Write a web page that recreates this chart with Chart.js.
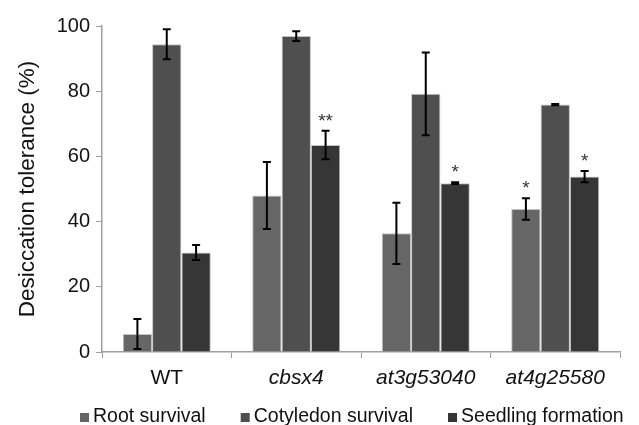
<!DOCTYPE html>
<html>
<head>
<meta charset="utf-8">
<script src="https://cdn.jsdelivr.net/npm/chart.js@4/dist/chart.umd.min.js"></script>
<style>
  html, body { margin: 0; padding: 0; background: #fff; }
  #wrap { width: 639px; height: 425px; }
</style>
</head>
<body>
<div id="wrap"><canvas id="chart"></canvas></div>
<script>
// Datos
const genotypes = ['WT', 'cbsx4', 'at3g53040', 'at4g25580'];
const seriesNames = ['Root survival', 'Cotyledon survival', 'Seedling formation'];

const rootSurvival = [5.5, 48, 36.4, 43.9];
const cotyledonSurvival = [94.4, 96.9, 79.2, 75.9];
const seedlingFormation = [30.5, 63.5, 51.8, 53.8];

const rootErr = [4.6, 10.3, 9.4, 3.3];
const cotyledonErr = [4.6, 1.5, 12.7, 0.2];
const seedlingErr = [2.3, 4.4, 0.3, 1.7];

const rootStars = ['', '', '', '*'];
const cotyledonStars = ['', '', '', ''];
const seedlingStars = ['', '**', '*', '*'];

const yTicks = [0, 20, 40, 60, 80, 100];

const errors = [rootErr, cotyledonErr, seedlingErr];
const stars = [rootStars, cotyledonStars, seedlingStars];
const colors = ['#666666', '#4f4f4f', '#363636'];
const FONT = '"Liberation Sans", Arial, sans-serif';

// Plugin para barras de error y asteriscos
const errorBarsPlugin = {
    id: 'errorBars',
    afterDatasetsDraw(chart) {
        const ctx = chart.ctx;
        const yScale = chart.scales.y;
        ctx.save();
        chart.data.datasets.forEach((ds, di) => {
            const meta = chart.getDatasetMeta(di);
            meta.data.forEach((bar, i) => {
                const v = ds.data[i];
                const e = errors[di][i];
                const x = bar.x;
                const yTop = yScale.getPixelForValue(v + e);
                const yBot = yScale.getPixelForValue(v - e);
                ctx.strokeStyle = '#000';
                ctx.lineWidth = 2;
                ctx.beginPath();
                ctx.moveTo(x, yTop); ctx.lineTo(x, yBot);
                ctx.moveTo(x - 4, yTop); ctx.lineTo(x + 4, yTop);
                ctx.moveTo(x - 4, yBot); ctx.lineTo(x + 4, yBot);
                ctx.stroke();
                const s = stars[di][i];
                if (s) {
                    ctx.fillStyle = '#333';
                    ctx.font = '19px ' + FONT;
                    ctx.textAlign = 'center';
                    ctx.textBaseline = 'alphabetic';
                    ctx.fillText(s, x, yTop - 4);
                }
            });
        });
        ctx.restore();
    }
};

// Leyenda dibujada a mano (cuadro pequeño + texto)
const legendPlugin = {
    id: 'customLegend',
    afterDraw(chart) {
        const ctx = chart.ctx;
        ctx.save();
        ctx.font = '19.5px ' + FONT;
        ctx.textAlign = 'left';
        ctx.textBaseline = 'alphabetic';
        let x = 80;
        const baseY = 421.5;
        chart.data.datasets.forEach(ds => {
            ctx.fillStyle = ds.backgroundColor;
            ctx.fillRect(x, 413, 9, 9);
            x += 13;
            ctx.fillStyle = '#111';
            ctx.fillText(ds.label, x, baseY);
            x += ctx.measureText(ds.label).width + 35;
        });
        ctx.restore();
    }
};

const datasetValues = [rootSurvival, cotyledonSurvival, seedlingFormation];

new Chart(document.getElementById('chart'), {
    type: 'bar',
    data: {
        labels: genotypes,
        datasets: seriesNames.map((name, i) => ({
            label: name,
            data: datasetValues[i],
            backgroundColor: colors[i],
            borderColor: '#c4c4c4',
            borderWidth: 1,
            categoryPercentage: 0.68,
            barPercentage: 1.0
        }))
    },
    options: {
        responsive: true,
        maintainAspectRatio: false,
        animation: false,
        layout: { padding: { top: 26, right: 19, left: 0, bottom: 0 } },
        plugins: {
            legend: { display: false },
            tooltip: { enabled: false }
        },
        scales: {
            x: {
                grid: {
                    display: true,
                    drawOnChartArea: false,
                    drawTicks: true,
                    tickLength: 6,
                    color: '#a0a0a0',
                    offset: true
                },
                border: { color: '#a0a0a0', width: 1.5 },
                ticks: {
                    color: '#111',
                    padding: 8,
                    font: ctx => ({
                        family: FONT,
                        size: 21,
                        style: ctx.index > 0 ? 'italic' : 'normal'
                    })
                },
                afterFit: scale => { scale.height = 73; }
            },
            y: {
                min: 0,
                max: 100,
                afterBuildTicks: scale => { scale.ticks = yTicks.map(v => ({ value: v })); },
                grid: {
                    display: true,
                    drawOnChartArea: false,
                    drawTicks: true,
                    tickLength: 6,
                    color: '#a0a0a0'
                },
                border: { color: '#a0a0a0', width: 1.5 },
                ticks: {
                    color: '#111',
                    padding: 6,
                    font: { family: FONT, size: 20 }
                },
                title: {
                    display: true,
                    text: 'Desiccation tolerance (%)',
                    color: '#111',
                    padding: { top: 14, bottom: 0 },
                    font: { family: FONT, size: 22.5 }
                },
                afterFit: scale => { scale.width = 102; }
            }
        }
    },
    plugins: [errorBarsPlugin, legendPlugin]
});
</script>
</body>
</html>
